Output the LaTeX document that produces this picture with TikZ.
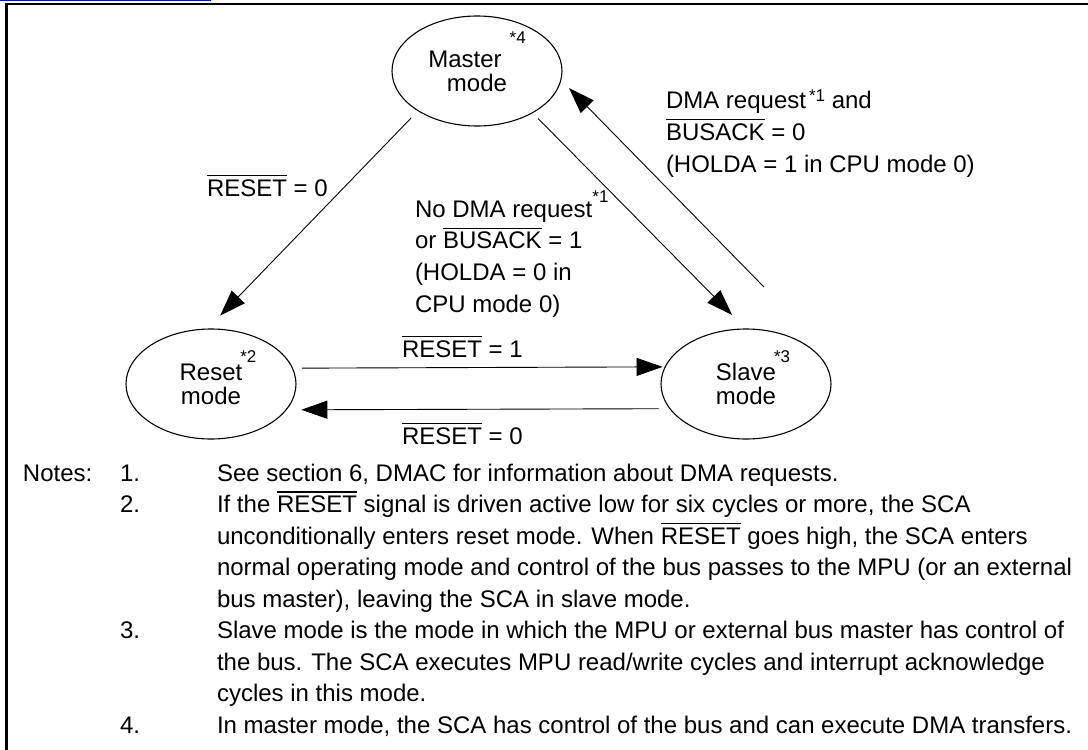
\documentclass[tikz,border=0pt]{standalone}
\usepackage{fontspec}
\setmainfont{Liberation Sans}
\usetikzlibrary{arrows.meta,shapes.geometric}
\newsavebox{\ovbox}
\newcommand{\ovbar}[1]{\leavevmode\sbox{\ovbox}{#1}\rlap{\rule[20pt]{\wd\ovbox}{1.2pt}}\usebox{\ovbox}}
\newcommand{\sups}[2][6pt]{\raisebox{#1}{\fontsize{17}{17}\selectfont #2}}
\tikzset{
  state/.style={ellipse, draw, line width=1.1pt, minimum width=170pt, minimum height=110pt,
    inner sep=0pt, outer sep=0pt, align=center, font=\fontsize{24}{24}\selectfont},
  lbl/.style={anchor=base west, inner sep=0pt, outer sep=0pt, font=\fontsize{24}{24}\selectfont},
  conn/.style={line width=0.9pt, -{Triangle[length=26pt,width=18pt]}},
}
\begin{document}
\begin{tikzpicture}[x=1pt,y=-1pt]
\useasboundingbox (0,0) rectangle (1088,750);
% frame
\draw[draw=blue, line width=1.4pt] (0,0.7) -- (211,0.7);
\draw[line width=2.6pt] (6.3,750) -- (6.3,3.8) -- (1088,3.8);
% states
\node[state] (master) at (477,71) {Master\kern8pt\smash{\sups[24pt]{*4}}\\mode};
\node[state] (reset) at (211,384) {Reset\rlap{\kern-2pt\smash{\sups[18pt]{*2}}}\\mode};
\node[state] (slave) at (746,384) {Slave\rlap{\kern-2pt\smash{\sups[18pt]{*3}}}\\mode};
% connectors
\coordinate (s2mstart) at (764,287);
\draw[conn, shorten <=9.8pt, shorten >=18.7pt] (master.214.5) -- (reset.94.2);
\draw[conn, shorten <=8.1pt, shorten >=19.8pt] (master.323.8) -- (slave.90.1);
\draw[conn, shorten >=11.6pt] (s2mstart) -- (master.354.1);
\draw[conn, shorten <=9.7pt, shorten >=2.7pt] (reset.11.1) -- (slave.168.9);
\draw[conn, shorten <=11.3pt, shorten >=15.3pt] (slave.198.3) -- (reset.341.7);
% edge labels
\node[lbl] (lrsta) at (207,196) {\ovbar{RESET} = 0};
\node[lbl] (lnodma1) at (415,217) {No DMA request\sups[15pt]{*1}};
\node[lbl] (lnodma2) at (415,248.7) {or \ovbar{BUSACK} = 1};
\node[lbl] (lnodma3) at (415,280.3) {(HOLDA = 0 in};
\node[lbl] (lnodma4) at (415,312) {CPU mode 0)};
\node[lbl] (ldma1) at (666,108) {DMA request\kern3pt\sups[7pt]{*1} and};
\node[lbl] (ldma2) at (666,140) {\ovbar{BUSACK} = 0};
\node[lbl] (ldma3) at (666,172) {(HOLDA = 1 in CPU mode 0)};
\node[lbl] (lrstb) at (402,357) {\ovbar{RESET} = 1};
\node[lbl] (lrstc) at (402,444) {\ovbar{RESET} = 0};
% notes
\node[lbl] (notes) at (23,481) {Notes:};
\node[lbl] (num1) at (120,481) {1.};
\node[lbl] (t1a) at (217,481) {See section 6, DMAC for information about DMA requests.};
\node[lbl] (num2) at (120,512.5) {2.};
\node[lbl] (t2a) at (217,512.5) {If the \ovbar{RESET} signal is driven active low for six cycles or more, the SCA};
\node[lbl] (t2b) at (217,544) {unconditionally enters reset mode. When \ovbar{RESET} goes high, the SCA enters};
\node[lbl] (t2c) at (217,575.5) {normal operating mode and control of the bus passes to the MPU (or an external};
\node[lbl] (t2d) at (217,607) {bus master), leaving the SCA in slave mode.};
\node[lbl] (num3) at (120,638.5) {3.};
\node[lbl] (t3a) at (217,638.5) {Slave mode is the mode in which the MPU or external bus master has control of};
\node[lbl] (t3b) at (217,670) {the bus. The SCA executes MPU read/write cycles and interrupt acknowledge};
\node[lbl] (t3c) at (217,701.5) {cycles in this mode.};
\node[lbl] (num4) at (120,733) {4.};
\node[lbl] (t4a) at (217,733) {In master mode, the SCA has control of the bus and can execute DMA transfers.};
\end{tikzpicture}
\end{document}
